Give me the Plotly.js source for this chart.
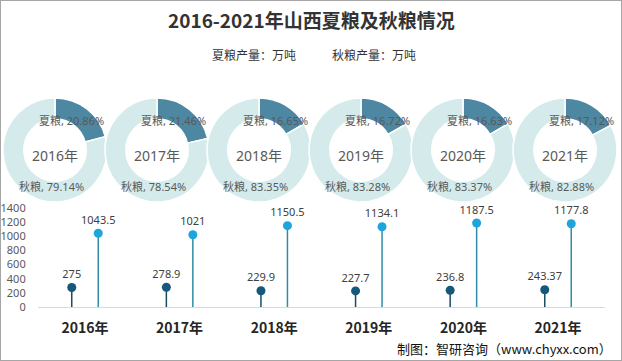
<!DOCTYPE html>
<html>
<head>
<meta charset="utf-8">
<script src="https://cdn.plot.ly/plotly-3.0.1.min.js"></script>
<style>
  html, body { margin: 0; padding: 0; background: #fff; }
  #chart { width: 620px; height: 359px; border: 1px solid #a6a6a6; }
</style>
</head>
<body>
<div id="chart"></div>
<script>
// ---- data ----
const years = ['2016年', '2017年', '2018年', '2019年', '2020年', '2021年'];
const summerOutput = [275, 278.9, 229.9, 227.7, 236.8, 243.37];
const autumnOutput = [1043.5, 1021, 1150.5, 1134.1, 1187.5, 1177.8];
const summerShare = ['20.86%', '21.46%', '16.65%', '16.72%', '16.63%', '17.12%'];
const autumnShare = ['79.14%', '78.54%', '83.35%', '83.28%', '83.37%', '82.88%'];
const summerName = '夏粮';
const autumnName = '秋粮';
const yTicks = [0, 200, 400, 600, 800, 1000, 1200, 1400];

// ---- layout helpers ----
const W = 620, H = 359;
const X = p => (p - 1) / W;
const Y = p => 1 - (p - 1) / H;
const CJK = 'Noto Sans CJK SC';
const LAT = 'Noto Sans, Noto Sans CJK SC';

const darkSlice = '#4d87a1';
const lightRing = '#d5ebeb';
const summerMarker = '#17587a';
const summerStem = '#1b4c63';
const autumnMarker = '#1ea6da';
const autumnStem = '#2f8da8';

const traces = [];
const annotations = [];
const note = (px, py, text, font, xanchor) => ({
  xref: 'paper', yref: 'paper', x: X(px), y: Y(py),
  xanchor: xanchor || 'center', yanchor: 'middle',
  text: text, showarrow: false, font: font
});

// donuts
const donutR = 52, donutCy = 150;
years.forEach((yr, i) => {
  const cx = 55 + 102 * i;
  traces.push({
    type: 'pie',
    values: [summerOutput[i], autumnOutput[i]],
    labels: [summerName, autumnName],
    sort: false,
    direction: 'clockwise',
    hole: 0.6,
    textinfo: 'none',
    hoverinfo: 'skip',
    showlegend: false,
    marker: { colors: [darkSlice, lightRing], line: { color: '#ffffff', width: 1.5 } },
    domain: { x: [X(cx - donutR), X(cx + donutR)], y: [Y(donutCy + donutR), Y(donutCy - donutR)] }
  });
  annotations.push(note(cx, donutCy + 5, yr, { family: LAT, size: 14, color: '#595959' }));
  annotations.push(note(cx + 16, donutCy - 30, summerName + ', ' + summerShare[i], { family: LAT, size: 11, color: '#595959' }));
  annotations.push(note(cx - 4, donutCy + 36, autumnName + ', ' + autumnShare[i], { family: LAT, size: 11, color: '#595959' }));
});

// lollipops
const idx = years.map((_, i) => i);
const off = 0.14;
traces.push({
  type: 'scatter', mode: 'markers+text',
  x: idx.map(i => i - off), y: summerOutput,
  text: summerOutput.map(String), textposition: 'top center',
  textfont: { family: LAT, size: 11, color: '#404040' },
  marker: { color: summerMarker, size: 9 },
  error_y: { type: 'data', symmetric: false, array: summerOutput.map(() => 0), arrayminus: summerOutput, width: 0, thickness: 1.5, color: summerStem },
  hoverinfo: 'skip', showlegend: false, cliponaxis: false
});
traces.push({
  type: 'scatter', mode: 'markers+text',
  x: idx.map(i => i + off), y: autumnOutput,
  text: autumnOutput.map(String), textposition: 'top center',
  textfont: { family: LAT, size: 11, color: '#404040' },
  marker: { color: autumnMarker, size: 9 },
  error_y: { type: 'data', symmetric: false, array: autumnOutput.map(() => 0), arrayminus: autumnOutput, width: 0, thickness: 1.5, color: autumnStem },
  hoverinfo: 'skip', showlegend: false, cliponaxis: false
});

// title, legend text, source
annotations.push(note(311, 20, '<b>2016-2021年山西夏粮及秋粮情况</b>', { family: CJK, size: 19, color: '#333333' }));
annotations.push(note(210, 55, summerName + '产量：万吨', { family: CJK, size: 12, color: '#333333' }, 'left'));
annotations.push(note(330, 55, autumnName + '产量：万吨', { family: CJK, size: 12, color: '#333333' }, 'left'));
annotations.push(note(614, 348, '制图：智研咨询（www.chyxx.com）', { family: CJK, size: 13, color: '#111111' }, 'right'));

const layout = {
  width: W, height: H,
  margin: { l: 0, r: 0, t: 0, b: 0 },
  paper_bgcolor: '#ffffff', plot_bgcolor: 'rgba(0,0,0,0)',
  showlegend: false,
  xaxis: {
    domain: [X(37.7), X(605.3)],
    range: [-0.5, 5.5],
    tickvals: idx, ticktext: years,
    tickfont: { family: CJK, size: 14, color: '#262626', weight: 'bold' },
    showgrid: false, zeroline: false,
    showline: true, linecolor: '#d9d9d9', linewidth: 1,
    ticks: '', ticklabelstandoff: 8, fixedrange: true
  },
  yaxis: {
    domain: [Y(307), Y(208)],
    range: [0, 1400],
    tickvals: yTicks,
    tickfont: { family: LAT, size: 11, color: '#595959' },
    showgrid: false, zeroline: false, showline: false,
    ticks: '', ticklabelstandoff: 11, fixedrange: true
  },
  annotations: annotations
};

Plotly.newPlot('chart', traces, layout, { staticPlot: true, displayModeBar: false });
</script>
</body>
</html>
